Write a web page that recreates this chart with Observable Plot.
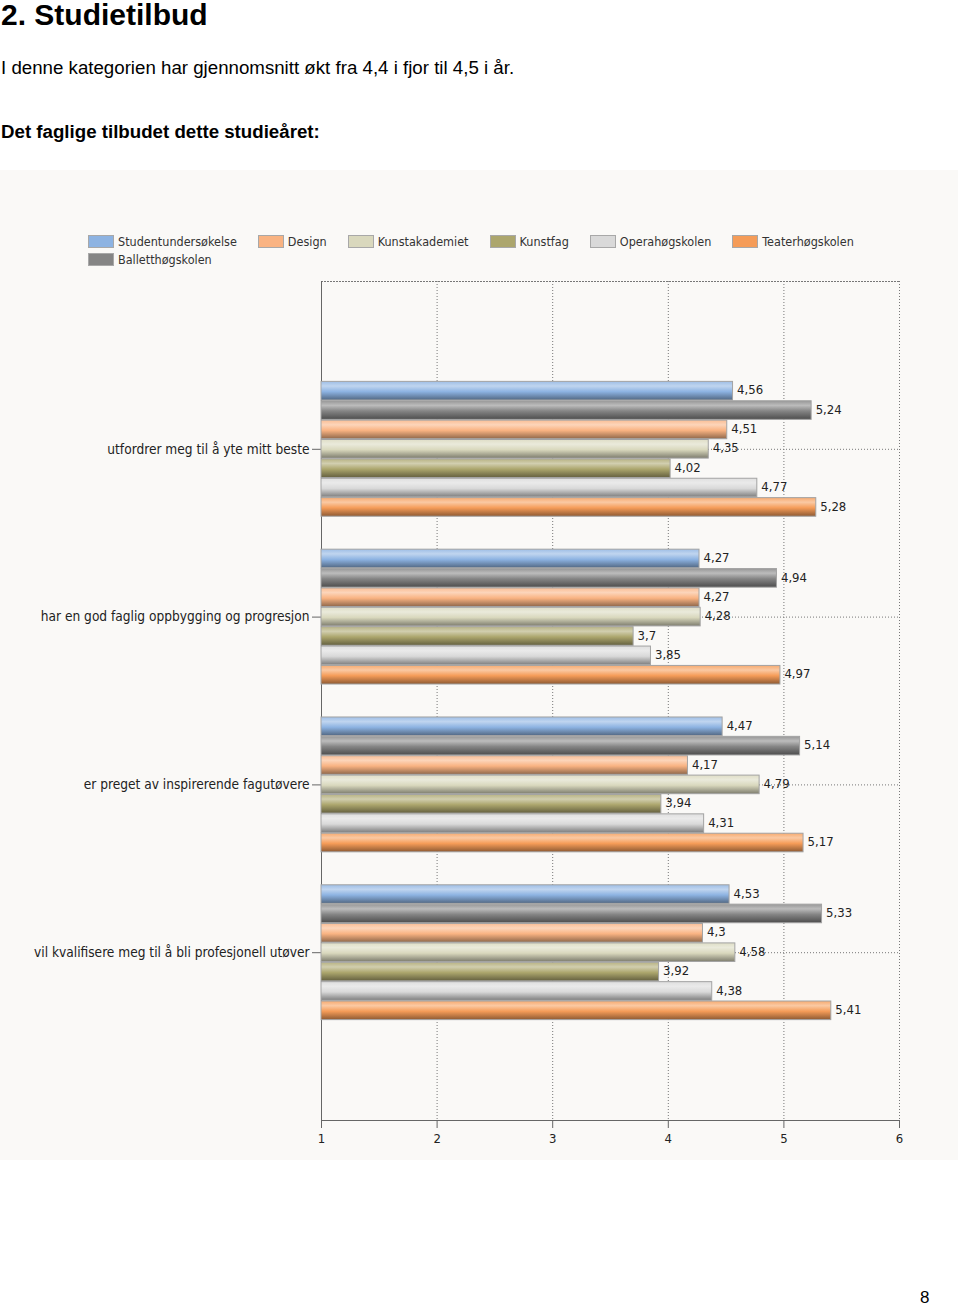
<!DOCTYPE html>
<html>
<head>
<meta charset="utf-8">
<script src="https://cdn.jsdelivr.net/npm/d3@7"></script>
<script src="https://cdn.jsdelivr.net/npm/@observablehq/plot@0.6"></script>
<style>
  html, body { margin: 0; padding: 0; background: #fff; }
  body { width: 960px; height: 1306px; position: relative; overflow: hidden; font-family: "Liberation Sans", Arial, sans-serif; color: #000; }
  .t { position: absolute; left: 1px; line-height: 1; white-space: nowrap; }
  #title { top: 0px; font-size: 30px; font-weight: bold; }
  #intro { top: 59px; font-size: 18.7px; }
  #sub { top: 123px; font-size: 18.7px; font-weight: bold; }
  #page { position: absolute; left: 920px; top: 1289px; font-size: 17px; line-height: 1; }
  #panel { position: absolute; left: 0; top: 170px; width: 958px; height: 990px; background: #faf9f7; }
  #legend { position: absolute; left: 88px; top: 63px; width: 820px; display: flex; flex-wrap: wrap; row-gap: 1px;
            font-family: "DejaVu Sans Condensed", "DejaVu Sans", sans-serif; font-stretch: condensed; font-size: 12.5px; color: #333; }
  .item { display: flex; align-items: center; margin-right: 21px; height: 16px; }
  .sw { width: 26px; height: 13px; border: 1px solid #a8a8a8; box-sizing: border-box; margin-right: 4px; }
  .brk { flex-basis: 100%; height: 0; }
  .layer { position: absolute; left: 0; top: 105px; }
  #defs { position: absolute; width: 0; height: 0; }
</style>
</head>
<body>
<div id="title" class="t">2. Studietilbud</div>
<div id="intro" class="t">I denne kategorien har gjennomsnitt økt fra 4,4 i fjor til 4,5 i år.</div>
<div id="sub" class="t">Det faglige tilbudet dette studieåret:</div>
<div id="panel">
  <div id="legend"></div>
  <div id="axes" class="layer"></div>
  <div id="bars" class="layer"></div>
</div>
<div id="page">8</div>
<svg id="defs"></svg>
<script>
// ---- data ----
const questions = [
  "utfordrer meg til å yte mitt beste",
  "har en god faglig oppbygging og progresjon",
  "er preget av inspirerende fagutøvere",
  "vil kvalifisere meg til å bli profesjonell utøver"
];
// bar order inside each group (top to bottom)
const series = ["Studentundersøkelse", "Balletthøgskolen", "Design", "Kunstakademiet", "Kunstfag", "Operahøgskolen", "Teaterhøgskolen"];
// legend order
const legendOrder = ["Studentundersøkelse", "Design", "Kunstakademiet", "Kunstfag", "Operahøgskolen", "Teaterhøgskolen", "Balletthøgskolen"];
const seriesColors = ["#8db3e2", "#858585", "#f9b382", "#d9d8bd", "#aca66d", "#d9d9d9", "#f59c58"];

const studentundersokelse = [4.56, 4.27, 4.47, 4.53];
const balletthogskolen    = [5.24, 4.94, 5.14, 5.33];
const design              = [4.51, 4.27, 4.17, 4.30];
const kunstakademiet      = [4.35, 4.28, 4.79, 4.58];
const kunstfag            = [4.02, 3.70, 3.94, 3.92];
const operahogskolen      = [4.77, 3.85, 4.31, 4.38];
const teaterhogskolen     = [5.28, 4.97, 5.17, 5.41];

const xTicks = [1, 2, 3, 4, 5, 6];
const baseline = 1;

// ---- table ----
const valuesBySeries = [studentundersokelse, balletthogskolen, design, kunstakademiet, kunstfag, operahogskolen, teaterhogskolen];
const rows = [];
questions.forEach((q, qi) => {
  series.forEach((s, si) => rows.push({question: q, series: s, value: valuesBySeries[si][qi]}));
});

// ---- gradients (bar shading) ----
const defs = d3.select("#defs").append("defs");
series.forEach((s, i) => {
  const c = seriesColors[i];
  const g = defs.append("linearGradient").attr("id", "grad" + i)
    .attr("x1", 0).attr("y1", 0).attr("x2", 0).attr("y2", 1);
  [[0, d3.interpolateRgb(c, "#fff")(0.15)],
   [0.25, d3.interpolateRgb(c, "#fff")(0.45)],
   [0.55, c],
   [1, d3.interpolateRgb(c, "#000")(0.42)]]
    .forEach(([o, col]) => g.append("stop").attr("offset", o).attr("stop-color", col));
});

// ---- legend ----
const legend = d3.select("#legend");
legendOrder.forEach((s, k) => {
  if (k === 6) legend.append("div").attr("class", "brk");
  const it = legend.append("div").attr("class", "item");
  it.append("div").attr("class", "sw").style("background", seriesColors[series.indexOf(s)]);
  it.append("span").text(s);
});

const F = '"DejaVu Sans Condensed", "DejaVu Sans", sans-serif';
const fmt = v => String(v).replace(".", ",");

// shared layout
const common = {
  width: 958,
  height: 885,
  marginLeft: 321,
  marginRight: 59,
  marginTop: 6,
  marginBottom: 40,
  style: {background: "transparent", fontFamily: F, fontStretch: "condensed", fontSize: "12px", color: "#333", overflow: "visible"}
};
// group layout: categories centred one step in from each edge
const groupInner = 0.1964;
const fyPad = {paddingInner: groupInner, paddingOuter: (1 + groupInner) / 2, round: false};

// layer 1: axes & grid (categories on a point y scale)
const axes = Plot.plot({
  ...common,
  x: {domain: [1, 6], axis: null},
  y: {type: "point", domain: questions, padding: 1, round: false, axis: null},
  marks: [
    Plot.gridX({ticks: xTicks.slice(1), stroke: "#777", strokeOpacity: 1, strokeDasharray: "1,2"}),
    Plot.gridY({stroke: "#777", strokeOpacity: 1, strokeDasharray: "1,2"}),
    Plot.frame({anchor: "top", stroke: "#777", strokeDasharray: "1,2"}),
    Plot.axisY({anchor: "left", label: null, tickSize: 9, tickPadding: 3, fontSize: 13.6, stroke: "#666", fill: "#222"}),
    Plot.ruleX([baseline], {stroke: "#666"}),
    Plot.frame({anchor: "bottom", stroke: "#666"}),
    Plot.axisX({ticks: xTicks, tickFormat: d => String(d), tickSize: 8, tickPadding: 5, fontSize: 13, stroke: "#666", fill: "#222", label: null})
  ]
});
document.getElementById("axes").appendChild(axes);

// layer 2: bars, faceted by question with the same group layout
const bars = Plot.plot({
  ...common,
  x: {domain: [1, 6], axis: null},
  y: {domain: series, axis: null, paddingInner: 0.04, paddingOuter: 0, round: false},
  fy: {domain: questions, ...fyPad, axis: null},
  color: {domain: series, range: series.map((s, i) => `url(#grad${i})`)},
  marks: [
    Plot.barX(rows, {x1: baseline, x2: "value", y: "series", fy: "question", fill: "series", stroke: "#a3a3a3", strokeWidth: 1}),
    Plot.text(rows, {x: "value", y: "series", fy: "question", text: d => fmt(d.value), textAnchor: "start", dx: 4, dy: -1, fontSize: 13, fill: "#222"})
  ]
});
document.getElementById("bars").appendChild(bars);
</script>
</body>
</html>
